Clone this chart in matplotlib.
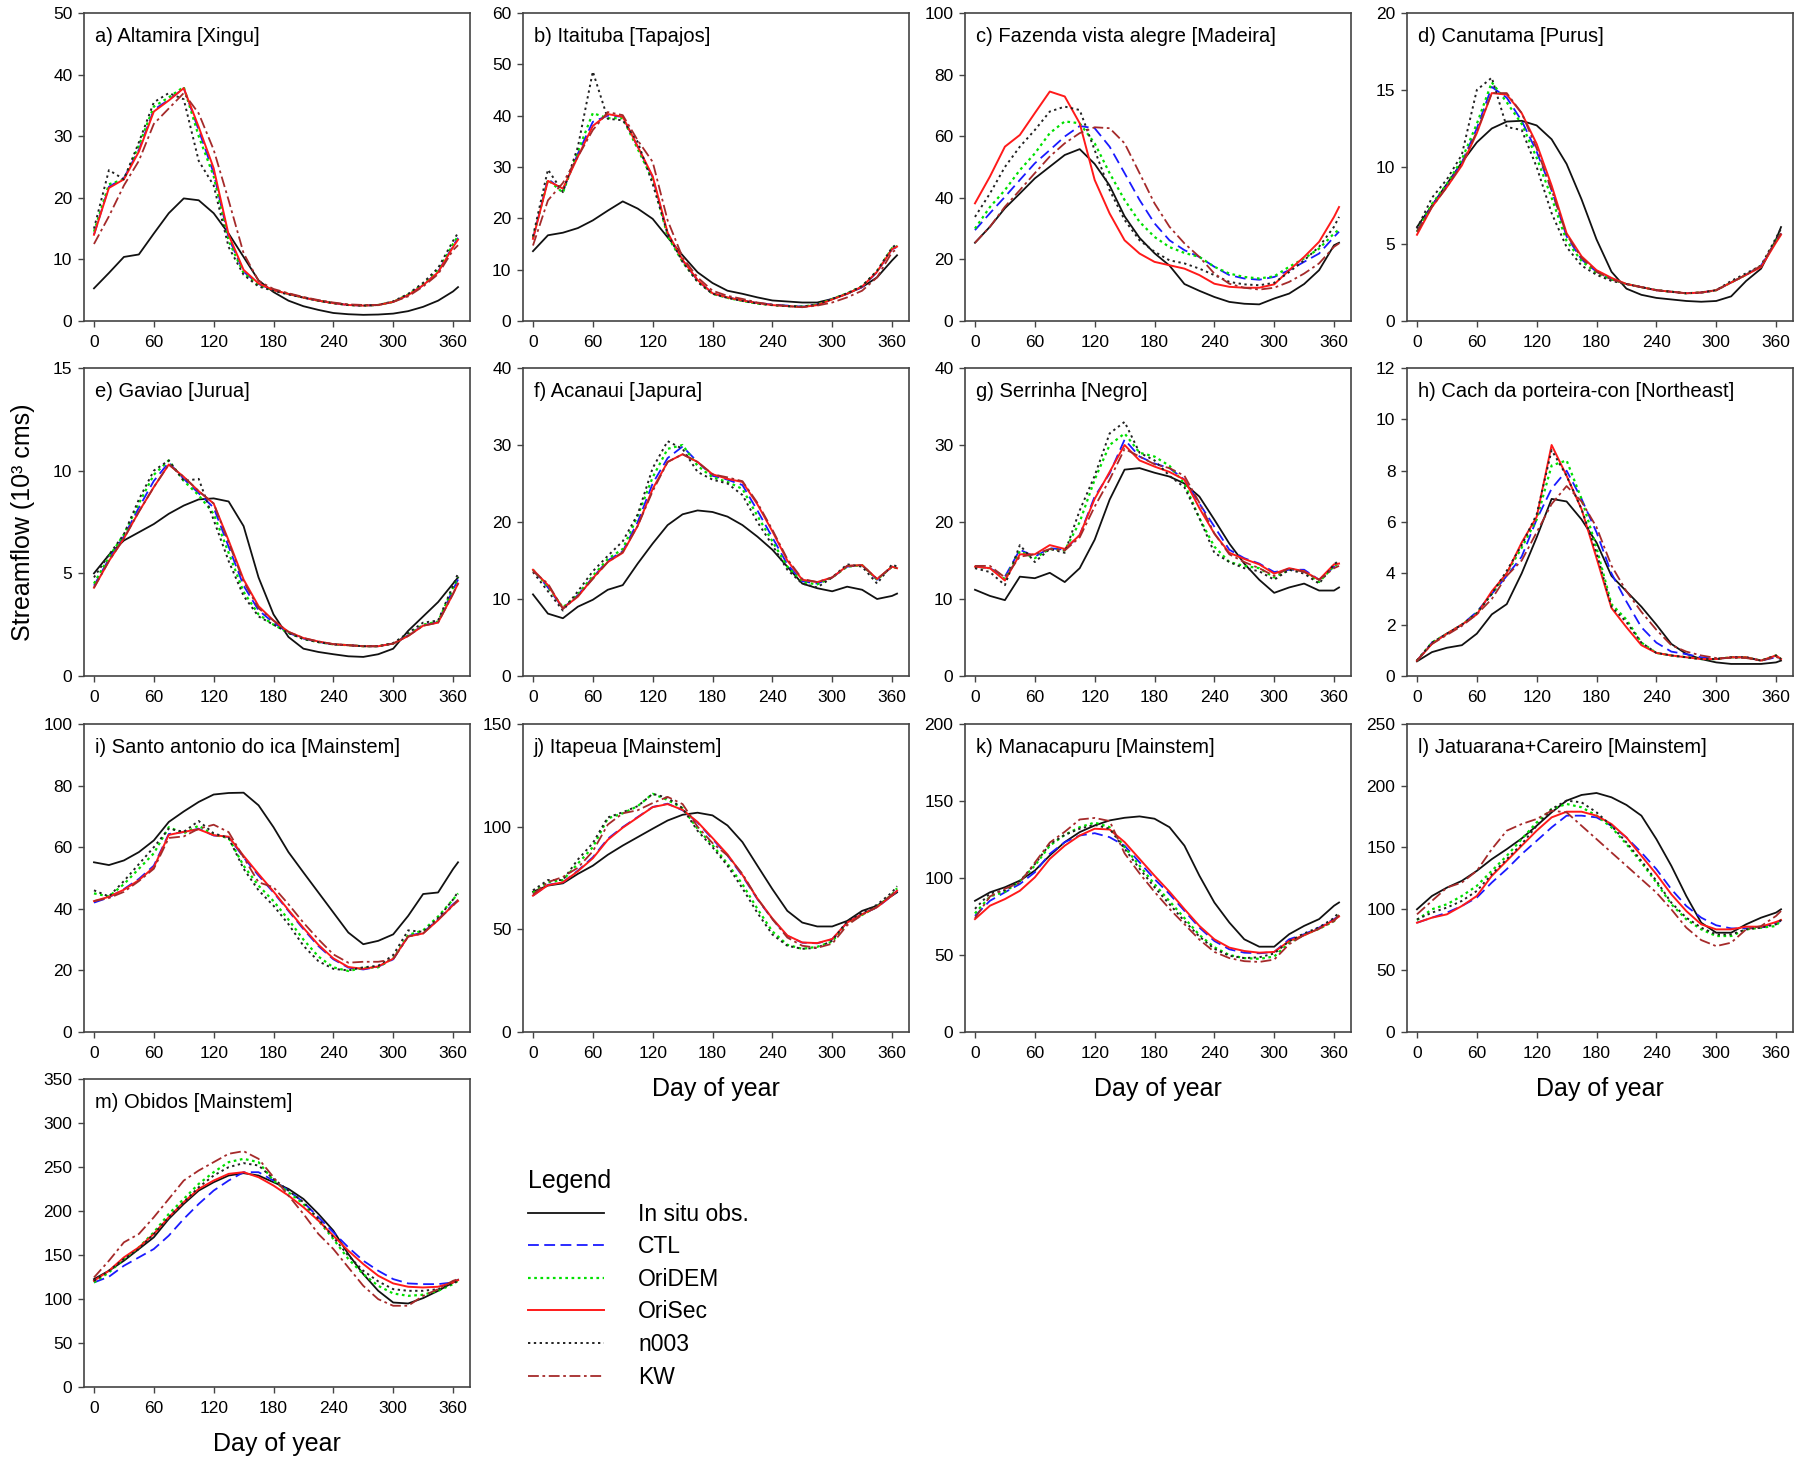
import matplotlib
matplotlib.use('Agg')
import matplotlib.pyplot as plt

plt.rcParams['font.family'] = ['Liberation Sans', 'DejaVu Sans']

# ---------------- data ----------------
days = [0, 15, 30, 45, 60, 75, 90, 105, 120, 135, 150, 165, 180, 195, 210,
        225, 240, 255, 270, 285, 300, 315, 330, 345, 360, 365]

series_names = ['In situ obs.', 'CTL', 'OriDEM', 'OriSec', 'n003', 'KW']

titles = ['a) Altamira [Xingu]', 'b) Itaituba [Tapajos]',
          'c) Fazenda vista alegre [Madeira]', 'd) Canutama [Purus]',
          'e) Gaviao [Jurua]', 'f) Acanaui [Japura]', 'g) Serrinha [Negro]',
          'h) Cach da porteira-con [Northeast]',
          'i) Santo antonio do ica [Mainstem]', 'j) Itapeua [Mainstem]',
          'k) Manacapuru [Mainstem]', 'l) Jatuarana+Careiro [Mainstem]',
          'm) Obidos [Mainstem]']

ymax = [50, 60, 100, 20, 15, 40, 40, 12, 100, 150, 200, 250, 350]
ystep = [10, 10, 20, 5, 5, 10, 10, 2, 20, 50, 50, 50, 50]

# a) Altamira
obs_a = [5.3, 7.8, 10.4, 10.8, 14.2, 17.5, 19.9, 19.6, 17.5, 14.2, 10.4, 6.6, 4.7, 3.3, 2.4, 1.8, 1.3, 1.1, 1.0, 1.05, 1.2, 1.6, 2.3, 3.3, 4.8, 5.5]
ctl_a = [14.0, 21.8, 23.2, 27.8, 34.3, 35.9, 37.8, 31.0, 24.0, 13.5, 8.0, 6.0, 5.0, 4.4, 3.8, 3.3, 2.9, 2.6, 2.5, 2.6, 3.1, 4.2, 5.8, 8.0, 12.2, 13.5]
oridem_a = [14.5, 22.2, 23.0, 28.5, 34.8, 36.3, 38.0, 30.0, 23.5, 13.0, 7.8, 5.8, 5.0, 4.4, 3.8, 3.3, 2.9, 2.6, 2.5, 2.6, 3.1, 4.3, 6.0, 8.3, 12.5, 13.8]
orisec_a = [14.0, 21.6, 23.0, 27.5, 34.0, 35.8, 37.8, 31.5, 24.8, 14.0, 8.3, 6.1, 5.0, 4.4, 3.8, 3.3, 2.9, 2.6, 2.5, 2.6, 3.1, 4.2, 5.8, 7.9, 12.0, 13.2]
n003_a = [15.0, 24.5, 23.0, 29.0, 35.5, 37.0, 36.0, 26.0, 22.0, 12.0, 7.5, 5.6, 4.9, 4.3, 3.8, 3.3, 2.9, 2.6, 2.5, 2.6, 3.2, 4.4, 6.2, 8.6, 13.0, 14.3]
kw_a = [12.5, 17.0, 22.0, 26.0, 32.0, 34.5, 37.0, 33.7, 27.8, 19.6, 11.0, 6.5, 5.2, 4.5, 3.9, 3.4, 3.0, 2.7, 2.6, 2.6, 3.1, 4.0, 5.6, 7.6, 11.5, 12.3]

# b) Itaituba
obs_b = [13.6, 16.7, 17.2, 18.1, 19.6, 21.5, 23.3, 21.9, 19.9, 16.3, 12.8, 9.5, 7.4, 5.9, 5.3, 4.6, 4.0, 3.8, 3.6, 3.6, 4.3, 5.3, 6.6, 8.5, 11.8, 12.8]
ctl_b = [16.0, 27.7, 25.4, 32.6, 38.8, 40.0, 39.8, 33.9, 28.0, 17.0, 11.8, 7.9, 5.4, 4.6, 4.0, 3.5, 3.2, 3.0, 2.8, 3.2, 4.3, 5.3, 6.6, 9.5, 14.0, 14.4]
oridem_b = [16.2, 27.5, 25.0, 33.0, 40.5, 39.5, 39.5, 33.5, 27.5, 16.5, 11.5, 7.7, 5.3, 4.5, 3.9, 3.4, 3.1, 2.9, 2.8, 3.2, 4.3, 5.4, 6.8, 9.7, 14.2, 14.6]
orisec_b = [16.0, 27.3, 25.8, 32.0, 38.0, 40.3, 39.8, 34.0, 28.2, 17.2, 11.9, 8.0, 5.4, 4.6, 4.0, 3.5, 3.1, 2.9, 2.7, 3.1, 4.2, 5.3, 6.7, 9.6, 14.0, 14.5]
n003_b = [16.5, 29.5, 25.1, 33.9, 48.6, 39.4, 39.1, 34.9, 26.7, 17.0, 11.5, 7.6, 5.3, 4.5, 3.9, 3.4, 3.1, 2.9, 2.8, 3.2, 4.3, 5.4, 6.8, 9.8, 14.3, 15.0]
kw_b = [14.7, 23.5, 26.9, 32.0, 37.2, 40.7, 40.1, 35.2, 31.0, 19.6, 12.4, 8.5, 5.9, 4.9, 4.3, 3.6, 3.2, 2.9, 2.7, 3.0, 3.6, 4.6, 5.9, 8.5, 13.4, 14.0]

# c) Fazenda vista alegre
obs_c = [25.4, 30.6, 36.6, 41.4, 46.3, 50.1, 53.9, 55.8, 51.0, 44.0, 34.0, 27.0, 22.0, 18.0, 12.0, 9.8, 7.8, 6.2, 5.6, 5.4, 7.3, 8.9, 12.0, 16.5, 24.6, 25.4]
ctl_c = [29.5, 35.0, 40.3, 45.8, 51.2, 55.5, 59.9, 63.3, 62.6, 56.6, 48.0, 39.3, 31.7, 26.2, 23.0, 20.8, 17.6, 14.9, 13.8, 13.4, 14.3, 16.5, 19.2, 21.9, 27.3, 29.0]
oridem_c = [30.0, 37.0, 42.5, 49.0, 54.4, 61.0, 64.8, 64.2, 57.7, 48.0, 39.3, 32.2, 27.3, 24.0, 22.1, 20.8, 17.6, 15.4, 14.3, 13.8, 14.5, 17.6, 20.3, 23.5, 28.4, 29.7]
orisec_c = [38.2, 46.9, 56.6, 60.4, 67.5, 74.5, 72.9, 64.2, 45.8, 34.9, 26.2, 21.9, 19.2, 18.1, 17.0, 14.9, 12.1, 11.1, 10.8, 10.8, 11.9, 16.5, 20.8, 25.7, 33.8, 37.0]
n003_c = [33.8, 41.4, 50.0, 56.6, 62.0, 68.0, 69.6, 68.5, 55.5, 42.5, 32.8, 26.2, 22.5, 19.7, 18.7, 17.0, 14.9, 12.7, 11.9, 11.6, 12.4, 15.9, 19.7, 24.1, 30.6, 33.8]
kw_c = [25.4, 30.6, 37.1, 42.5, 48.0, 53.4, 57.7, 61.0, 62.9, 62.6, 57.7, 48.0, 38.2, 30.6, 25.2, 20.8, 15.4, 12.1, 10.8, 10.2, 10.8, 12.7, 15.4, 18.7, 24.1, 25.2]

# d) Canutama
obs_d = [6.1, 7.5, 8.9, 10.3, 11.6, 12.5, 12.95, 13.0, 12.7, 11.8, 10.2, 7.9, 5.3, 3.2, 2.1, 1.7, 1.5, 1.4, 1.3, 1.25, 1.3, 1.6, 2.6, 3.4, 5.3, 6.1]
ctl_d = [5.8, 7.5, 8.8, 10.3, 12.5, 15.2, 14.5, 13.0, 11.0, 8.5, 5.5, 4.0, 3.2, 2.7, 2.4, 2.2, 2.0, 1.9, 1.8, 1.85, 2.0, 2.5, 3.0, 3.6, 5.2, 5.7]
oridem_d = [5.8, 7.6, 8.9, 10.5, 12.8, 15.5, 14.2, 12.8, 10.6, 8.0, 5.2, 3.9, 3.1, 2.7, 2.4, 2.2, 2.0, 1.9, 1.8, 1.85, 2.0, 2.5, 3.0, 3.6, 5.2, 5.7]
orisec_d = [5.6, 7.4, 8.7, 10.1, 12.2, 14.8, 14.7, 13.5, 11.5, 8.8, 5.7, 4.2, 3.3, 2.8, 2.4, 2.2, 2.0, 1.9, 1.8, 1.85, 2.0, 2.5, 3.0, 3.5, 5.1, 5.6]
n003_d = [6.0, 8.0, 9.2, 10.8, 15.0, 15.8, 12.6, 12.4, 10.0, 7.0, 4.8, 3.6, 3.0, 2.6, 2.4, 2.2, 2.0, 1.9, 1.8, 1.85, 2.0, 2.6, 3.1, 3.6, 5.4, 6.0]
kw_d = [5.8, 7.4, 8.7, 10.2, 12.3, 14.8, 14.8, 13.5, 11.2, 8.5, 5.6, 4.1, 3.2, 2.7, 2.4, 2.2, 2.0, 1.9, 1.8, 1.85, 2.0, 2.5, 3.0, 3.6, 5.2, 5.7]

# e) Gaviao
obs_e = [5.0, 5.9, 6.6, 7.0, 7.4, 7.9, 8.3, 8.6, 8.65, 8.5, 7.3, 4.8, 3.0, 1.9, 1.33, 1.17, 1.06, 0.96, 0.93, 1.06, 1.33, 2.2, 2.9, 3.6, 4.5, 4.8]
ctl_e = [4.4, 5.7, 6.8, 8.2, 9.5, 10.4, 9.6, 8.9, 8.2, 6.3, 4.4, 3.2, 2.6, 2.1, 1.82, 1.66, 1.54, 1.5, 1.45, 1.45, 1.58, 1.98, 2.47, 2.63, 4.2, 4.7]
oridem_e = [4.5, 5.8, 6.9, 8.4, 9.8, 10.5, 9.5, 8.8, 7.9, 6.0, 4.1, 3.0, 2.5, 2.1, 1.8, 1.65, 1.54, 1.5, 1.45, 1.45, 1.58, 2.0, 2.5, 2.65, 4.3, 4.8]
orisec_e = [4.3, 5.6, 6.7, 8.0, 9.2, 10.3, 9.7, 9.0, 8.4, 6.6, 4.7, 3.4, 2.7, 2.15, 1.85, 1.68, 1.55, 1.5, 1.45, 1.45, 1.58, 1.95, 2.45, 2.6, 4.0, 4.5]
n003_e = [4.8, 5.9, 6.9, 8.6, 10.0, 10.5, 9.5, 9.6, 7.6, 5.6, 3.9, 2.9, 2.5, 2.1, 1.8, 1.65, 1.54, 1.5, 1.45, 1.45, 1.6, 2.1, 2.6, 2.7, 4.4, 5.0]
kw_e = [4.3, 5.6, 6.7, 8.0, 9.2, 10.3, 9.7, 9.0, 8.4, 6.5, 4.6, 3.3, 2.7, 2.15, 1.85, 1.68, 1.55, 1.5, 1.45, 1.45, 1.58, 1.95, 2.45, 2.6, 4.0, 4.5]

# f) Acanaui
obs_f = [10.6, 8.1, 7.5, 9.0, 9.9, 11.2, 11.8, 14.6, 17.2, 19.6, 21.0, 21.5, 21.3, 20.7, 19.6, 18.1, 16.4, 14.2, 12.0, 11.4, 11.0, 11.6, 11.2, 10.0, 10.4, 10.7]
ctl_f = [13.8, 11.5, 8.8, 10.5, 12.8, 15.0, 16.2, 20.0, 25.0, 28.3, 29.8, 27.8, 26.0, 25.5, 24.8, 21.5, 18.0, 14.5, 12.3, 12.0, 12.8, 14.2, 14.4, 12.5, 14.2, 14.0]
oridem_f = [13.8, 11.6, 8.9, 10.6, 13.0, 15.2, 16.5, 20.8, 25.8, 29.5, 30.0, 27.3, 25.8, 25.2, 24.3, 20.8, 17.5, 14.2, 12.2, 11.9, 12.8, 14.2, 14.4, 12.5, 14.2, 14.0]
orisec_f = [13.8, 11.8, 8.8, 10.3, 12.7, 14.8, 16.0, 19.5, 24.3, 27.8, 28.8, 27.8, 26.2, 25.6, 25.2, 22.3, 18.8, 15.0, 12.5, 12.2, 12.8, 14.3, 14.4, 12.6, 14.2, 14.0]
n003_f = [13.5, 11.0, 8.5, 11.0, 13.6, 15.6, 17.5, 21.0, 27.0, 30.5, 29.5, 26.5, 25.5, 25.0, 23.5, 20.0, 17.0, 13.8, 12.0, 11.5, 12.8, 14.5, 14.2, 12.0, 14.5, 14.2]
kw_f = [13.6, 12.0, 8.7, 10.4, 12.6, 14.8, 16.1, 19.5, 24.0, 27.8, 28.8, 27.8, 26.2, 25.8, 25.3, 22.5, 19.0, 15.2, 12.6, 12.2, 12.8, 14.3, 14.4, 12.6, 14.2, 14.0]

# g) Serrinha
obs_g = [11.2, 10.4, 9.85, 12.9, 12.7, 13.4, 12.2, 14.0, 17.7, 22.9, 26.8, 27.0, 26.4, 25.9, 25.0, 23.3, 20.3, 17.2, 14.6, 12.5, 10.8, 11.5, 12.0, 11.1, 11.1, 11.5]
ctl_g = [14.2, 14.0, 12.9, 16.4, 15.5, 16.6, 16.4, 18.3, 23.3, 26.3, 30.7, 28.5, 27.6, 27.0, 25.5, 22.4, 19.4, 16.4, 15.3, 14.6, 13.5, 13.8, 13.8, 12.5, 14.2, 14.4]
oridem_g = [14.2, 14.0, 12.6, 16.2, 15.3, 16.5, 16.3, 20.0, 25.5, 30.0, 31.5, 29.0, 28.5, 27.3, 25.0, 20.5, 16.8, 14.8, 14.3, 14.0, 12.8, 13.8, 13.6, 12.2, 14.3, 14.6]
orisec_g = [14.2, 14.0, 12.4, 15.8, 15.8, 17.0, 16.5, 18.3, 23.0, 26.5, 30.0, 28.0, 27.2, 26.5, 25.5, 21.8, 18.5, 16.0, 15.2, 14.5, 13.3, 14.0, 13.6, 12.5, 14.5, 14.6]
n003_g = [14.0, 13.5, 11.8, 17.0, 14.8, 16.5, 16.0, 21.5, 26.0, 31.5, 33.0, 29.0, 28.0, 26.0, 24.5, 20.5, 16.0, 14.8, 14.0, 13.6, 12.5, 13.8, 13.3, 12.0, 14.5, 15.0]
kw_g = [14.3, 14.3, 12.8, 15.5, 15.8, 16.5, 16.3, 18.0, 22.0, 25.5, 29.5, 28.5, 27.5, 27.0, 26.0, 22.5, 18.5, 15.8, 14.8, 14.0, 13.0, 14.0, 13.5, 12.5, 14.0, 14.3]

# h) Cach da porteira-con
obs_h = [0.57, 0.93, 1.1, 1.2, 1.65, 2.4, 2.8, 4.0, 5.4, 6.9, 6.8, 6.1, 5.2, 3.9, 3.3, 2.7, 2.0, 1.25, 0.86, 0.66, 0.53, 0.47, 0.47, 0.47, 0.53, 0.6]
ctl_h = [0.6, 1.3, 1.65, 2.0, 2.5, 3.2, 3.9, 4.65, 6.1, 7.3, 8.0, 6.9, 5.6, 4.0, 2.9, 1.9, 1.3, 0.95, 0.85, 0.73, 0.66, 0.73, 0.73, 0.6, 0.73, 0.66]
oridem_h = [0.6, 1.3, 1.65, 2.0, 2.45, 3.2, 4.0, 5.0, 6.1, 8.2, 8.4, 6.9, 5.0, 2.8, 2.2, 1.3, 0.9, 0.8, 0.73, 0.66, 0.66, 0.73, 0.73, 0.6, 0.8, 0.66]
orisec_h = [0.6, 1.25, 1.65, 2.0, 2.4, 3.3, 4.0, 5.2, 6.2, 9.0, 7.8, 6.5, 4.6, 2.65, 1.9, 1.2, 0.9, 0.8, 0.73, 0.66, 0.66, 0.73, 0.73, 0.6, 0.8, 0.66]
n003_h = [0.6, 1.3, 1.65, 2.0, 2.45, 3.2, 4.1, 5.1, 6.3, 8.8, 7.8, 6.5, 4.8, 2.7, 2.1, 1.3, 0.9, 0.8, 0.73, 0.66, 0.66, 0.73, 0.73, 0.6, 0.8, 0.66]
kw_h = [0.6, 1.25, 1.6, 1.95, 2.4, 3.0, 3.9, 4.5, 5.6, 6.7, 7.4, 6.8, 5.8, 4.3, 3.3, 2.5, 1.8, 1.2, 0.95, 0.8, 0.7, 0.7, 0.7, 0.6, 0.75, 0.65]

# i) Santo antonio do ica
obs_i = [55.1, 54.2, 55.7, 58.4, 62.2, 68.2, 71.6, 74.7, 77.1, 77.6, 77.7, 73.6, 66.5, 58.4, 51.8, 45.3, 38.8, 32.3, 28.5, 29.6, 31.7, 37.7, 44.8, 45.3, 52.9, 55.1]
ctl_i = [42.0, 43.7, 46.4, 49.7, 54.0, 64.3, 64.9, 66.0, 63.8, 63.3, 56.7, 50.8, 45.3, 39.3, 33.4, 27.9, 23.6, 20.9, 20.3, 21.2, 23.6, 31.2, 32.3, 36.6, 41.5, 42.8]
oridem_i = [45.0, 44.0, 48.0, 53.0, 58.0, 66.5, 64.5, 67.0, 64.0, 63.0, 54.0, 47.5, 42.5, 36.5, 30.0, 24.5, 21.0, 19.8, 20.8, 21.0, 24.0, 31.5, 33.0, 37.5, 43.0, 45.0]
orisec_i = [42.5, 43.9, 46.2, 49.3, 53.5, 64.0, 65.0, 65.8, 63.9, 63.4, 57.2, 51.3, 45.6, 39.6, 33.8, 28.3, 23.9, 21.1, 20.5, 21.3, 23.8, 31.0, 32.0, 36.3, 41.2, 42.5]
n003_i = [46.0, 44.0, 49.0, 54.5, 60.0, 66.0, 65.0, 68.5, 64.5, 63.0, 53.0, 46.0, 41.0, 35.0, 28.0, 23.0, 20.5, 20.0, 21.0, 21.5, 25.0, 33.0, 32.5, 37.0, 43.0, 45.5]
kw_i = [42.5, 43.5, 45.5, 49.0, 53.0, 63.0, 63.5, 66.0, 67.3, 64.9, 56.7, 48.6, 47.0, 41.5, 35.5, 30.1, 25.2, 22.5, 22.8, 22.8, 23.6, 31.0, 32.0, 36.5, 41.0, 43.0]

# j) Itapeua
obs_j = [68.3, 71.3, 72.4, 77.0, 81.0, 86.3, 90.8, 94.9, 99.0, 103.0, 105.8, 106.8, 105.5, 100.6, 92.5, 81.0, 69.6, 59.0, 53.3, 51.4, 51.4, 54.1, 59.0, 61.5, 66.4, 68.0]
ctl_j = [66.4, 71.7, 72.9, 78.6, 85.1, 94.1, 99.8, 104.7, 109.6, 111.2, 108.0, 102.0, 94.0, 86.0, 76.0, 64.7, 55.0, 46.8, 43.5, 43.2, 45.2, 53.3, 57.4, 60.7, 66.4, 68.8]
oridem_j = [68.0, 73.0, 74.0, 82.0, 90.0, 104.0, 106.5, 110.0, 116.0, 113.0, 109.0, 99.0, 91.0, 82.0, 72.0, 60.0, 49.0, 42.5, 40.5, 41.5, 44.0, 53.0, 57.0, 61.0, 67.0, 70.0]
orisec_j = [66.4, 71.5, 72.9, 78.3, 84.6, 93.6, 99.5, 104.5, 109.5, 111.0, 108.2, 102.3, 94.5, 86.5, 76.5, 65.0, 55.3, 47.0, 43.6, 43.3, 45.3, 53.3, 57.4, 60.8, 66.5, 68.8]
n003_j = [69.0, 74.0, 74.0, 84.0, 92.0, 104.5, 107.0, 110.0, 116.0, 114.0, 109.0, 98.0, 90.0, 81.0, 70.0, 58.0, 47.5, 42.0, 40.5, 41.0, 44.5, 54.0, 58.0, 62.0, 68.0, 71.0]
kw_j = [67.0, 73.0, 75.5, 80.0, 88.0, 101.0, 106.5, 108.0, 111.5, 114.5, 111.0, 100.0, 92.0, 86.0, 77.0, 65.0, 55.0, 46.0, 42.0, 41.0, 43.0, 52.0, 57.0, 61.0, 67.0, 69.0]

# k) Manacapuru
obs_k = [85.2, 90.7, 94.0, 98.3, 104.8, 114.6, 123.3, 129.8, 134.1, 137.4, 139.1, 140.0, 138.5, 133.0, 121.0, 101.5, 84.1, 71.1, 60.2, 55.4, 55.4, 63.5, 68.9, 73.3, 82.0, 84.1]
ctl_k = [75.4, 85.2, 90.7, 96.1, 103.7, 115.7, 123.3, 127.6, 129.1, 126.5, 121.0, 110.2, 99.3, 89.6, 78.7, 67.8, 59.1, 53.7, 51.5, 51.1, 52.0, 60.2, 63.5, 67.8, 73.3, 75.4]
oridem_k = [77.0, 88.0, 91.0, 98.0, 108.0, 121.0, 128.0, 133.0, 136.0, 133.0, 120.0, 108.0, 96.0, 85.0, 74.0, 63.0, 55.0, 50.0, 48.0, 47.5, 49.0, 58.0, 63.0, 67.0, 72.0, 76.0]
orisec_k = [73.3, 82.0, 86.3, 91.7, 100.4, 112.4, 121.0, 127.6, 132.0, 131.5, 123.3, 112.4, 101.5, 91.1, 79.8, 68.9, 60.2, 54.8, 52.6, 51.5, 52.0, 59.1, 62.8, 67.2, 72.8, 75.0]
n003_k = [80.0, 90.0, 92.0, 98.0, 109.0, 122.0, 128.0, 132.0, 134.5, 132.0, 119.0, 106.0, 94.0, 83.0, 72.0, 62.0, 54.0, 49.5, 48.0, 48.5, 51.0, 59.0, 64.0, 68.0, 74.0, 78.0]
kw_k = [74.0, 88.0, 93.0, 97.0, 110.0, 123.0, 130.0, 138.0, 139.0, 137.0, 116.0, 103.0, 91.0, 80.0, 70.0, 60.0, 52.0, 48.0, 46.0, 45.5, 47.0, 57.0, 63.0, 67.0, 72.0, 76.0]

# l) Jatuarana+Careiro
obs_l = [99.6, 110.4, 117.2, 122.7, 130.8, 140.3, 148.4, 157.1, 167.4, 178.3, 187.8, 192.4, 194.0, 190.5, 184.3, 175.6, 156.6, 134.9, 110.4, 88.7, 80.6, 80.6, 87.4, 92.8, 96.9, 99.6]
ctl_l = [88.7, 92.8, 96.9, 102.3, 109.1, 121.3, 132.2, 144.4, 155.2, 166.1, 175.6, 175.6, 174.2, 167.4, 157.9, 145.7, 132.2, 115.9, 102.3, 92.8, 86.6, 84.1, 84.1, 84.7, 88.7, 90.1]
oridem_l = [90.9, 99.6, 103.7, 110.4, 118.6, 130.8, 143.0, 156.6, 170.1, 181.0, 185.1, 182.4, 175.6, 166.1, 152.5, 137.6, 121.3, 103.7, 91.4, 83.3, 77.9, 77.9, 83.3, 84.7, 86.0, 91.4]
orisec_l = [88.7, 92.8, 95.5, 102.3, 110.4, 126.7, 138.9, 151.2, 163.4, 174.2, 178.8, 178.8, 175.6, 168.8, 157.9, 143.0, 128.1, 111.8, 98.2, 87.4, 83.3, 83.3, 85.5, 85.5, 89.3, 90.9]
n003_l = [91.4, 96.9, 101.0, 106.4, 114.5, 128.1, 140.3, 152.5, 167.4, 181.0, 187.8, 186.4, 178.3, 167.4, 153.9, 138.9, 122.7, 105.0, 92.8, 84.7, 79.2, 79.2, 83.3, 84.7, 87.4, 90.9]
kw_l = [95.5, 106.4, 117.2, 121.3, 130.8, 148.4, 163.4, 168.8, 172.9, 179.6, 178.3, 167.4, 156.6, 145.7, 134.9, 124.0, 113.2, 99.6, 84.7, 74.6, 69.7, 72.5, 83.3, 86.0, 94.2, 98.2]

# m) Obidos
obs_m = [122.6, 132.1, 143.5, 156.8, 170.1, 191.0, 208.0, 223.2, 232.7, 240.3, 243.0, 240.3, 232.7, 225.1, 213.7, 196.7, 177.7, 151.1, 128.3, 109.3, 96.0, 94.9, 101.0, 109.3, 118.8, 121.9]
ctl_m = [118.8, 125.3, 137.8, 147.3, 156.8, 172.0, 191.0, 208.0, 223.2, 234.6, 244.1, 244.1, 234.6, 223.2, 210.0, 192.9, 175.8, 158.7, 143.5, 132.1, 122.6, 117.7, 116.9, 116.9, 118.8, 121.5]
oridem_m = [118.8, 130.2, 145.4, 158.7, 175.8, 196.7, 213.7, 230.8, 244.1, 255.5, 259.3, 255.5, 234.6, 221.3, 208.0, 189.1, 168.2, 145.4, 128.3, 115.0, 106.3, 103.6, 104.8, 109.3, 116.9, 120.7]
orisec_m = [120.7, 132.1, 147.3, 158.7, 173.9, 192.9, 210.0, 225.1, 234.6, 242.2, 244.1, 238.4, 228.9, 217.5, 204.3, 189.1, 172.0, 154.9, 139.7, 126.4, 117.7, 113.9, 113.1, 113.9, 118.8, 121.5]
n003_m = [120.7, 132.1, 145.4, 156.8, 173.9, 192.9, 210.0, 227.0, 240.3, 249.8, 254.4, 251.7, 236.5, 223.2, 210.0, 191.0, 170.1, 149.2, 132.1, 120.0, 111.2, 109.3, 109.3, 111.2, 117.7, 120.7]
kw_m = [124.5, 143.5, 164.4, 173.9, 192.9, 213.7, 234.6, 246.0, 255.5, 265.0, 268.0, 259.3, 238.4, 217.5, 196.7, 173.9, 156.8, 135.9, 115.0, 99.8, 92.3, 92.3, 103.6, 111.2, 120.7, 122.6]

panels = [
    (obs_a, ctl_a, oridem_a, orisec_a, n003_a, kw_a),
    (obs_b, ctl_b, oridem_b, orisec_b, n003_b, kw_b),
    (obs_c, ctl_c, oridem_c, orisec_c, n003_c, kw_c),
    (obs_d, ctl_d, oridem_d, orisec_d, n003_d, kw_d),
    (obs_e, ctl_e, oridem_e, orisec_e, n003_e, kw_e),
    (obs_f, ctl_f, oridem_f, orisec_f, n003_f, kw_f),
    (obs_g, ctl_g, oridem_g, orisec_g, n003_g, kw_g),
    (obs_h, ctl_h, oridem_h, orisec_h, n003_h, kw_h),
    (obs_i, ctl_i, oridem_i, orisec_i, n003_i, kw_i),
    (obs_j, ctl_j, oridem_j, orisec_j, n003_j, kw_j),
    (obs_k, ctl_k, oridem_k, orisec_k, n003_k, kw_k),
    (obs_l, ctl_l, oridem_l, orisec_l, n003_l, kw_l),
    (obs_m, ctl_m, oridem_m, orisec_m, n003_m, kw_m),
]

# ---------------- styles ----------------
styles = [
    dict(color='#111111', linestyle='-', linewidth=1.3),
    dict(color='#1a1aff', linestyle=(0, (6, 3)), linewidth=1.3),
    dict(color='#00e000', linestyle=(0, (1.2, 1.6)), linewidth=1.6),
    dict(color='#ff1a1a', linestyle='-', linewidth=1.4),
    dict(color='#222222', linestyle=(0, (1.2, 1.8)), linewidth=1.4),
    dict(color='#a52a2a', linestyle=(0, (6, 2, 1.5, 2)), linewidth=1.3),
]

W, H = 1800, 1463
fig = plt.figure(figsize=(W / 100, H / 100), dpi=100)

lefts = [84, 523, 965, 1407]
tops = [13, 368, 724, 1079]
aw, ah = 386, 308
axis_col = '#444444'

for k, data in enumerate(panels):
    r, c = divmod(k, 4)
    ax = fig.add_axes([lefts[c] / W, 1 - (tops[r] + ah) / H, aw / W, ah / H])
    for vals, name, st in zip(data, series_names, styles):
        ax.plot(days, vals, label=name, **st)
    ax.set_xlim(-10, 377)
    ax.set_ylim(0, ymax[k])
    ax.set_xticks(list(range(0, 361, 60)))
    ax.set_yticks(list(range(0, ymax[k] + 1, ystep[k])))
    ax.tick_params(direction='out', length=4.3, width=1.0, color=axis_col,
                   labelsize=12.5, pad=4)
    ax.tick_params(axis='x', pad=5.5)
    for sp in ax.spines.values():
        sp.set_color(axis_col)
        sp.set_linewidth(1.2)
    ax.text(0.028, 0.955, titles[k], transform=ax.transAxes, ha='left',
            va='top', fontsize=14.5)
    if k in (9, 10, 11, 12):
        ax.set_xlabel('Day of year', fontsize=18, labelpad=12)
    if k == 12:
        handles, labels = ax.get_legend_handles_labels()

fig.text(23 / W, 1 - 522 / H, 'Streamflow (10³ cms)', rotation=90,
         ha='center', va='center', fontsize=18)

fig.legend(handles, labels, loc='upper left',
           bbox_to_anchor=(528 / W, 1 - 1169 / H), frameon=False,
           title='Legend', title_fontsize=18, fontsize=16.5,
           handlelength=3.3, handletextpad=1.5, labelspacing=0.42,
           borderaxespad=0, borderpad=0, alignment='left')

fig.savefig('out.png', dpi=100)
